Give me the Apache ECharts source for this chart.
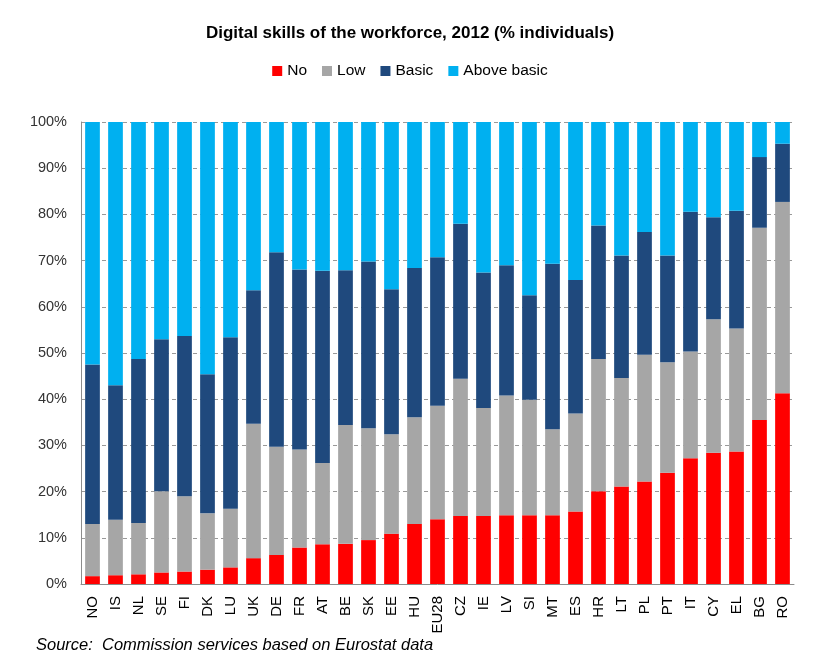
<!DOCTYPE html>
<html>
<head>
<meta charset="utf-8">
<script src="https://cdn.jsdelivr.net/npm/echarts@6/dist/echarts.min.js"></script>
<style>html,body{margin:0;padding:0;background:#fff;}#c{width:820px;height:670px;}</style>
</head>
<body>
<div id="c"></div>
<script>
const categories = ["NO","IS","NL","SE","FI","DK","LU","UK","DE","FR","AT","BE","SK","EE","HU","EU28","CZ","IE","LV","SI","MT","ES","HR","LT","PL","PT","IT","CY","EL","BG","RO"];
const noSkills    = [1.7,1.9,2.1,2.5,2.7,3.1,3.6,5.6,6.3,7.9,8.6,8.7,9.5,10.9,13.0,14.0,14.7,14.7,14.9,14.9,14.9,15.7,20.1,21.1,22.2,24.1,27.2,28.4,28.7,35.5,41.3];
const lowSkills   = [11.3,12.0,11.1,17.6,16.3,12.2,12.7,29.1,23.4,21.2,17.6,25.7,24.2,21.5,23.1,24.6,29.7,23.4,25.9,25.0,18.6,21.2,28.6,23.5,27.4,23.9,23.1,28.9,26.6,41.6,41.4];
const basicSkills = [34.5,29.1,35.5,32.9,34.7,30.1,37.1,28.9,42.1,39.0,41.6,33.5,36.1,31.4,32.3,32.1,33.6,29.3,28.2,22.6,35.8,28.9,28.9,26.5,26.6,23.1,30.3,22.1,25.5,15.3,12.6];
const aboveBasic  = [52.5,57.0,51.3,47.0,46.3,54.6,46.6,36.4,28.2,31.9,32.2,32.1,30.2,36.2,31.6,29.3,22.0,32.6,31.0,37.5,30.7,34.2,22.4,28.9,23.8,28.9,19.4,20.6,19.2,7.6,4.7];
const seriesNames = ["No","Low","Basic","Above basic"];
const titleText = "Digital skills of the workforce, 2012 (% individuals)";
const sourceText = "Source:  Commission services based on Eurostat data";

const colors = ["#FF0000","#A6A6A6","#1F497D","#00B0F0"];
const data = [noSkills, lowSkills, basicSkills, aboveBasic];

const chart = echarts.init(document.getElementById('c'), null, {renderer:'canvas'});
chart.setOption({
  backgroundColor: '#ffffff',
  animation: false,
  title: [
    {text: titleText, left: 'center', top: 20,
     textStyle: {fontFamily: 'Liberation Sans', fontSize: 17, fontWeight: 'bold', color: '#000'}},
    {text: sourceText, left: 31, top: 632,
     textStyle: {fontFamily: 'Liberation Sans', fontSize: 16.5, fontWeight: 'normal', fontStyle: 'italic', color: '#000'}}
  ],
  legend: {
    top: 58, left: 'center', icon: 'rect', itemWidth: 10, itemHeight: 10, itemGap: 15,
    textStyle: {fontFamily: 'Liberation Sans', fontSize: 15.5, color: '#000'},
    data: seriesNames
  },
  grid: {left: 81, right: 26, top: 122, bottom: 86},
  xAxis: {
    type: 'category', data: categories,
    axisLine: {lineStyle: {color: '#8c8c8c'}},
    axisTick: {show: false},
    axisLabel: {rotate: 90, interval: 0, fontFamily: 'Liberation Sans', fontSize: 15, color: '#000', margin: 12}
  },
  yAxis: {
    type: 'value', min: 0, max: 100, interval: 10,
    axisLine: {show: true, lineStyle: {color: '#8c8c8c'}},
    axisTick: {show: false},
    axisLabel: {formatter: '{value}%', fontFamily: 'Liberation Sans', fontSize: 14.5, color: '#333', margin: 14},
    splitLine: {show: true, lineStyle: {color: '#999', type: [4,3], width: 1}}
  },
  series: seriesNames.map((n, i) => ({
    name: n, type: 'bar', stack: 'total', barWidth: '64%',
    itemStyle: {color: colors[i]},
    data: data[i]
  }))
});
</script>
</body>
</html>
